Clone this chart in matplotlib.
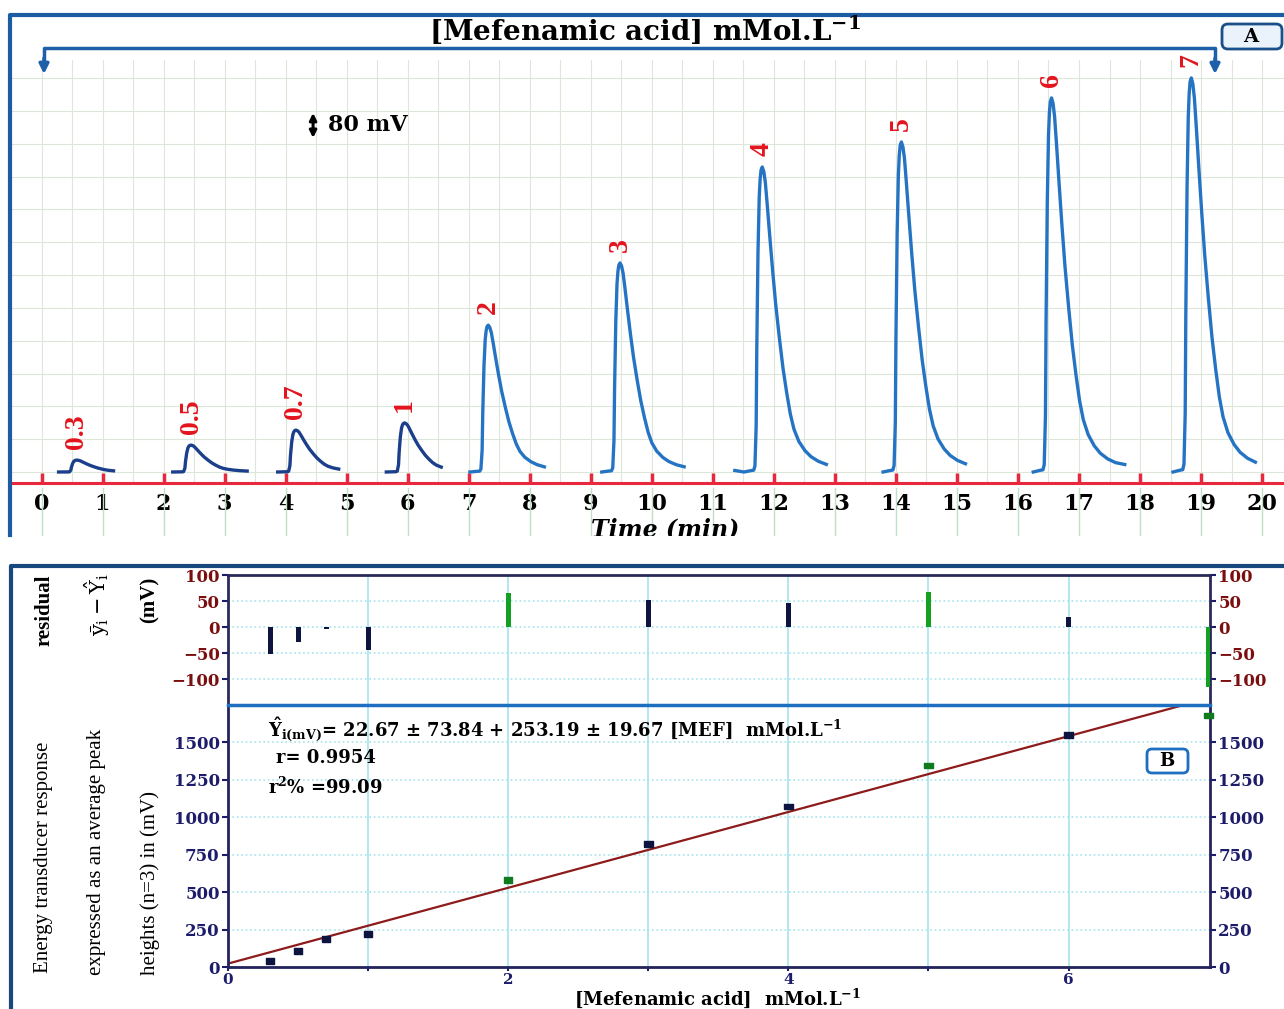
import numpy as np
import matplotlib.pyplot as plt
from matplotlib.patches import FancyBboxPatch, Rectangle

plt.rcParams['mathtext.fontset'] = 'dejavuserif'
plt.rcParams['font.family'] = 'DejaVu Serif'

W, H = 1284, 1009

# Panel A - recorded peaks (time in min, height in mV)
conc_labels = ['0.3', '0.5', '0.7', '1', '2', '3', '4', '5', '6', '7']
peak_time = [0.58, 2.45, 4.17, 5.95, 7.32, 9.48, 11.81, 14.09, 16.55, 18.84]
peak_height = [38, 86, 134, 157, 470, 669, 976, 1056, 1197, 1261]
trace_start = [0.14, 2.04, 3.78, 5.55, 6.97, 9.16, 11.35, 13.71, 16.14, 18.50]
trace_end = [1.25, 3.37, 4.93, 6.58, 8.32, 10.58, 12.91, 15.27, 17.80, 19.98]

profile_dt = [-0.60, -0.45, -0.30, -0.20, -0.14, -0.12, -0.10, -0.09, -0.07, -0.05,
              -0.035, -0.02, 0.0, 0.025, 0.05, 0.08, 0.12, 0.17, 0.22, 0.28,
              0.34, 0.40, 0.46, 0.52, 0.60, 0.70, 0.80, 0.92, 1.05, 1.20, 1.35, 1.50]
profile_frac = [0.0, 0.005, 0.0, 0.004, 0.006, 0.02, 0.15, 0.40, 0.72, 0.90,
                0.96, 0.99, 1.0, 0.985, 0.95, 0.88, 0.78, 0.66, 0.55, 0.44,
                0.34, 0.26, 0.19, 0.14, 0.10, 0.07, 0.05, 0.035, 0.025, 0.02, 0.015, 0.01]

# Panel B - calibration
conc = [0.3, 0.5, 0.7, 1, 2, 3, 4, 5, 6, 7]
mean_height = [40, 107, 187, 220, 581, 822, 1071, 1345, 1550, 1677]
residual = [-52, -29, -3, -45, 65, 52, 47, 68, 19, -116]
intercept, slope = 22.67, 253.19
green_conc = (2, 5, 7)


def box(x0, y0, x1, y1):
    return [x0 / W, 1 - y1 / H, (x1 - x0) / W, (y1 - y0) / H]


fig = plt.figure(figsize=(W / 100, H / 100), dpi=100)

# ---------------- panel A ----------------
axA = fig.add_axes(box(10, 60, 1284, 483))
px_min, x0px, mv_px = 61.03, 41.5, 3.2
axA.set_xlim((10 - x0px) / px_min, (1284 - x0px) / px_min)
axA.set_ylim(-(483 - 472) * mv_px, (472 - 60) * mv_px)

axA.set_xticks(range(21))
axA.set_xticks(np.arange(0, 20.01, 0.5), minor=True)
axA.set_yticks(np.arange(0, 1300, 105))
axA.grid(True, which='both', color='#dde6da', lw=0.8)
axA.tick_params(axis='y', left=False, labelleft=False)
axA.tick_params(axis='x', which='major', direction='in', length=7, width=2.5,
                color='#e8283c', pad=7, labelsize=16)
axA.tick_params(axis='x', which='minor', length=0)
for lab in axA.get_xticklabels():
    lab.set_fontweight('bold')
for s in ['left', 'right', 'top']:
    axA.spines[s].set_visible(False)
axA.spines['bottom'].set_color('#e8283c')
axA.spines['bottom'].set_linewidth(2.2)

dt = np.array(profile_dt)
fr = np.array(profile_frac)
for i in range(len(conc_labels)):
    t = dt + peak_time[i]
    keep = (t >= trace_start[i]) & (t <= trace_end[i])
    col = '#1b3f8b' if i < 4 else '#2574c4'
    axA.plot(t[keep], fr[keep] * peak_height[i], color=col, lw=2.4)
    axA.text(peak_time[i], peak_height[i] + 35, conc_labels[i], rotation=90,
             ha='center', va='bottom', color='#e3141e', fontsize=20,
             fontweight='bold', family='Liberation Serif')

# 80 mV scale bar
axA.annotate('', xy=(4.45, 1069), xytext=(4.45, 1149),
             arrowprops=dict(arrowstyle='<|-|>', lw=2.2, color='black',
                             mutation_scale=10, shrinkA=0, shrinkB=0))
axA.text(4.70, 1109, '80 mV', ha='left', va='center', fontsize=16, fontweight='bold')

# ---------------- panel B ----------------
navy = '#1c1c6b'
cyan = '#a6e4ee'
colors = ['#0f7a1e' if c in green_conc else '#0d1440' for c in conc]

axR = fig.add_axes(box(228, 575, 1210, 705))
axR.set_xlim(0, 7.01)
axR.set_ylim(-150, 100)
axR.bar(conc, residual, width=0.036,
        color=['#14a020' if c in green_conc else '#0d1440' for c in conc], zorder=3)
axR.set_xticks([1, 2, 3, 4, 5, 6])
axR.set_yticks([-100, -50, 0, 50, 100])
axR.grid(axis='x', color=cyan, lw=1.2)
axR.grid(axis='y', color=cyan, lw=1.2, ls=':')
axR.tick_params(axis='x', length=0, labelbottom=False)
axR.tick_params(axis='y', left=True, right=True, labelleft=True, labelright=True,
                labelsize=12, labelcolor='#7b0f0f', color=navy, length=4, width=1.5, pad=2)
for lab in axR.get_yticklabels():
    lab.set_fontweight('bold')
axR.spines['bottom'].set_visible(False)
for s in ['left', 'right', 'top']:
    axR.spines[s].set_color('#2a2a5a')
    axR.spines[s].set_linewidth(2)

axC = fig.add_axes(box(228, 705, 1210, 967))
axC.set_xlim(0, 7.01)
axC.set_ylim(0, 1750)
axC.set_xticks([0, 2, 4, 6])
axC.set_xticks([1, 3, 5], minor=True)
axC.set_yticks(range(0, 1501, 250))
axC.grid(axis='x', which='both', color=cyan, lw=1.2)
axC.grid(axis='y', color=cyan, lw=1.2, ls=':')
axC.tick_params(axis='y', left=True, right=True, labelleft=True, labelright=True,
                labelsize=12, labelcolor=navy, color=navy, length=4, width=1.5, pad=2)
axC.tick_params(axis='x', which='both', labelsize=11, labelcolor=navy, color=navy,
                length=3, width=1.5, pad=1)
for lab in axC.get_yticklabels() + axC.get_xticklabels():
    lab.set_fontweight('bold')
for s in ['left', 'right', 'bottom']:
    axC.spines[s].set_color('#23235e')
    axC.spines[s].set_linewidth(2)
axC.spines['top'].set_color('#1f6fc0')
axC.spines['top'].set_linewidth(2.5)

xs = np.array([0, 7.01])
axC.plot(xs, intercept + slope * xs, color='#8e1b1b', lw=1.6, zorder=2)
rect = [(-1, -0.6), (1, -0.6), (1, 0.6), (-1, 0.6), (-1, -0.6)]
axC.scatter(conc, mean_height, marker=rect, s=38, c=colors, zorder=4, clip_on=False)

# ---------------- overlay in pixel coords ----------------
bg = fig.add_axes([0, 0, 1, 1], zorder=10)
bg.set_axis_off()
bg.set_xlim(0, W)
bg.set_ylim(H, 0)

for k in range(21):
    xp = x0px + px_min * k
    bg.plot([xp, xp], [488, 536], color='#bfe0c6', lw=1, zorder=1)

bg.text(665, 529, 'Time (min)', ha='center', va='center', fontsize=17,
        fontweight='bold', style='italic', zorder=3)
bg.add_patch(Rectangle((0, 536), W, 28, facecolor='white', edgecolor='none', zorder=5))

bg.plot([10, 10, W], [535, 15, 15], color='#1b5ca3', lw=3, zorder=6)
bg.plot([11, 11, W], [H, 566, 566], color='#17477d', lw=3, zorder=6)

# bracket with title
bcol = '#1d5fa8'
bg.plot([44, 44, 1215, 1215], [62, 48, 48, 62], color=bcol, lw=2.5, zorder=6)
for xb in (44, 1215):
    bg.annotate('', xy=(xb, 74), xytext=(xb, 58),
                arrowprops=dict(arrowstyle='-|>', color=bcol, lw=2.5,
                                mutation_scale=14, shrinkA=0, shrinkB=0), zorder=6)
bg.text(645, 30, r'[Mefenamic acid] mMol.L$^{\mathbf{-1}}$', ha='center', va='center',
        fontsize=20, fontweight='bold', zorder=6)

bg.add_patch(FancyBboxPatch((1222, 24), 60, 25, boxstyle='round,pad=0,rounding_size=6',
                            ec='#1b4f8a', fc='#eaf2fb', lw=2, zorder=6))
bg.text(1251, 37, 'A', ha='center', va='center', fontsize=14, fontweight='bold', zorder=7)

bg.add_patch(FancyBboxPatch((1147, 749), 41, 24, boxstyle='round,pad=0,rounding_size=5',
                            ec='#1f6fc0', fc='white', lw=2, zorder=6))
bg.text(1167, 761, 'B', ha='center', va='center', fontsize=13, fontweight='bold', zorder=7)

# panel B texts
bg.text(268, 730, r'$\mathbf{\hat{Y}_{i(mV)}}$= 22.67 ± 73.84 + 253.19 ± 19.67 [MEF]  mMol.L$^{\mathbf{-1}}$',
        ha='left', va='center', fontsize=13, fontweight='bold')
bg.text(276, 758, 'r= 0.9954', ha='left', va='center', fontsize=13, fontweight='bold')
bg.text(268, 787, r'r$^{\mathbf{2}}$% =99.09', ha='left', va='center', fontsize=13, fontweight='bold')

bg.text(44, 857, 'Energy transducer response', rotation=90, ha='center', va='center',
        fontsize=15, family='Liberation Serif')
bg.text(97, 852, 'expressed as an average peak', rotation=90, ha='center', va='center',
        fontsize=15, family='Liberation Serif')
bg.text(150, 883, 'heights (n=3) in (mV)', rotation=90, ha='center', va='center',
        fontsize=15, family='Liberation Serif')
bg.text(44, 610, 'residual', rotation=90, ha='center', va='center', fontsize=15,
        fontweight='bold', family='Liberation Serif')
bg.text(97, 605, r'$\mathrm{\bar{y}_i - \hat{Y}_i}$', rotation=90, ha='center', va='center',
        fontsize=15)
bg.text(150, 600, '(mV)', rotation=90, ha='center', va='center', fontsize=15,
        fontweight='bold', family='Liberation Serif')

bg.text(718, 998, r'[Mefenamic acid]  mMol.L$^{\mathbf{-1}}$', ha='center', va='center',
        fontsize=13, fontweight='bold')

fig.savefig('out.png', dpi=100)
